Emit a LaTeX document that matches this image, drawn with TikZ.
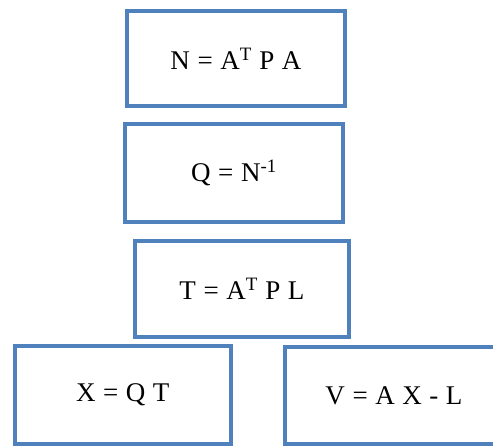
\documentclass[tikz,border=0pt]{standalone}
\usepackage{fontspec}
\setmainfont{Liberation Serif}
\usepackage{xcolor}
\definecolor{boxblue}{RGB}{79,129,189}
\newcommand{\eqfont}{\fontsize{27}{32}\selectfont\spaceskip=0.28em\relax}
\begin{document}
\begin{tikzpicture}[
    x=1pt, y=-1pt,
    box/.style={draw=boxblue, line width=4pt, inner sep=0pt, font=\eqfont},
]
    \useasboundingbox (0,0) rectangle (493,446);
    \clip (0,0) rectangle (493,446);

    % Normal equations
    \node[box, minimum width=218pt, minimum height=95pt] (normal) at (236,58.5) {N = A\textsuperscript{T} P A};
    \node[box, minimum width=218pt, minimum height=98pt] (inverse) at (234,173) {Q = N\textsuperscript{-1}};
    \node[box, minimum width=214pt, minimum height=96pt] (rhs) at (242,289) {T = A\textsuperscript{T} P L};

    % Solution and residuals
    \node[box, minimum width=216.5pt, minimum height=98pt] (solution) at (122.75,395) {X = Q T};
    \node[box, minimum width=218pt, minimum height=97pt] (residual) at (394,395.5) {V = A X - L};
\end{tikzpicture}
\end{document}
